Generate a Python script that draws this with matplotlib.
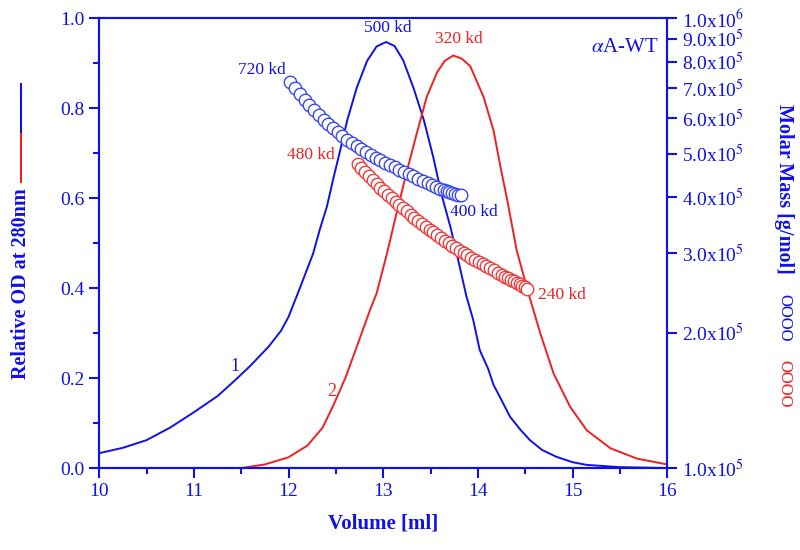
import matplotlib
matplotlib.use("Agg")
import matplotlib.pyplot as plt
from matplotlib.lines import Line2D

plt.rcParams['font.family'] = ['Liberation Serif', 'DejaVu Serif']
plt.rcParams['mathtext.fontset'] = 'stix'

BLUE = '#1010e8'
RED = '#ee2020'

# curve 1 (blue) - relative OD
vol1 = [10.0, 10.25, 10.5, 10.75, 11.0, 11.25, 11.44, 11.6, 11.79, 11.92, 12.0, 12.12,
        12.26, 12.33, 12.405, 12.475, 12.55, 12.62, 12.72, 12.83, 12.93, 13.03, 13.12,
        13.21, 13.32, 13.43, 13.53, 13.62, 13.71, 13.80, 13.88, 13.95, 14.02, 14.11,
        14.165, 14.24, 14.34, 14.45, 14.55, 14.68, 14.83, 15.0, 15.15, 15.5, 16.0]
od1 = [0.033, 0.045, 0.062, 0.09, 0.124, 0.16, 0.196, 0.228, 0.27, 0.305, 0.336, 0.400,
       0.477, 0.530, 0.581, 0.645, 0.71, 0.773, 0.845, 0.905, 0.937, 0.947, 0.938,
       0.907, 0.845, 0.773, 0.690, 0.605, 0.536, 0.455, 0.381, 0.33, 0.262, 0.22,
       0.185, 0.155, 0.114, 0.085, 0.062, 0.04, 0.025, 0.013, 0.007, 0.002, 0.0]

# curve 2 (red) - relative OD
vol2 = [11.5, 11.75, 12.0, 12.2, 12.36, 12.475, 12.6, 12.73, 12.86, 12.93, 13.04, 13.145,
        13.25, 13.355, 13.46, 13.57, 13.65, 13.74, 13.83, 13.92, 14.06, 14.165, 14.24,
        14.31, 14.41, 14.535, 14.66, 14.80, 14.975, 15.15, 15.40, 15.68, 16.0]
od2 = [0.0, 0.008, 0.024, 0.05, 0.09, 0.14, 0.2, 0.275, 0.351, 0.388, 0.477, 0.57,
       0.66, 0.744, 0.825, 0.88, 0.905, 0.917, 0.91, 0.893, 0.825, 0.751, 0.668,
       0.596, 0.484, 0.388, 0.299, 0.21, 0.136, 0.084, 0.044, 0.021, 0.008]

# molar mass (kd) - blue circles
mm1_vol = [12.02, 12.07, 12.12, 12.17, 12.22, 12.27, 12.32, 12.37, 12.42, 12.47, 12.52,
           12.57, 12.62, 12.67, 12.72, 12.77, 12.82, 12.87, 12.92, 12.97, 13.02, 13.07,
           13.12, 13.17, 13.22, 13.27, 13.32, 13.37, 13.42, 13.47, 13.52, 13.56, 13.60,
           13.64, 13.67, 13.70, 13.73, 13.76, 13.79, 13.82]
mm1_kd = [720, 698, 678, 659, 641, 624, 608, 594, 581, 569, 558, 547, 537, 528, 520, 512,
          504, 497, 490, 483, 477, 471, 466, 460, 455, 450, 445, 440, 435, 430, 425, 421,
          418, 415, 412, 410, 408, 406, 405, 404]

# molar mass (kd) - red circles
mm2_vol = [12.73, 12.77, 12.81, 12.85, 12.89, 12.93, 12.97, 13.01, 13.05, 13.09, 13.13,
           13.17, 13.21, 13.25, 13.29, 13.33, 13.37, 13.41, 13.45, 13.49, 13.53, 13.57,
           13.61, 13.65, 13.69, 13.73, 13.77, 13.81, 13.85, 13.89, 13.93, 13.97, 14.01,
           14.05, 14.09, 14.13, 14.17, 14.21, 14.25, 14.29, 14.32, 14.35, 14.38, 14.41,
           14.44, 14.47, 14.50, 14.52]
mm2_kd = [475, 464, 454, 445, 436, 428, 420, 412, 405, 398, 391, 385, 378, 372, 366, 360,
          354, 349, 344, 339, 334, 329, 324, 320, 316, 312, 308, 304, 300, 297, 293, 290,
          287, 284, 281, 278, 275, 272, 269, 266, 264, 262, 260, 258, 256, 254, 252, 250]

right_ticks = [1e5, 2e5, 3e5, 4e5, 5e5, 6e5, 7e5, 8e5, 9e5, 1e6]
right_labels = ['1.0x10$^5$', '2.0x10$^5$', '3.0x10$^5$', '4.0x10$^5$', '5.0x10$^5$',
                '6.0x10$^5$', '7.0x10$^5$', '8.0x10$^5$', '9.0x10$^5$', '1.0x10$^6$']

fig = plt.figure(figsize=(8, 5.5), dpi=100)
ax = fig.add_axes([0.124, 0.149, 0.71, 0.818])
ax2 = ax.twinx()

ax.plot(vol1, od1, color=BLUE, lw=1.4)
ax.plot(vol2, od2, color=RED, lw=1.4)

ax2.plot(mm1_vol, [k * 1000 for k in mm1_kd], 'o', ms=9, mfc='white', mec='#3848f0', mew=1.0)
ax2.plot(mm2_vol, [k * 1000 for k in mm2_kd], 'o', ms=9, mfc='white', mec='#f03a3a', mew=1.0)

ax.set_xlim(10, 16)
ax.set_ylim(0, 1.0)
ax2.set_yscale('log')
ax2.set_ylim(1e5, 1e6)

ax.set_xticks([10, 11, 12, 13, 14, 15, 16])
ax.set_xticks([10.5, 11.5, 12.5, 13.5, 14.5, 15.5], minor=True)
ax.set_yticks([0.0, 0.2, 0.4, 0.6, 0.8, 1.0])
ax.set_yticklabels(['0.0', '0.2', '0.4', '0.6', '0.8', '1.0'])
ax.set_yticks([0.1, 0.3, 0.5, 0.7, 0.9], minor=True)
ax2.set_yticks(right_ticks)
ax2.set_yticklabels(right_labels)
ax2.yaxis.set_minor_locator(matplotlib.ticker.NullLocator())

for a in (ax, ax2):
    for s in a.spines.values():
        s.set_color(BLUE)
        s.set_linewidth(1.5)
    a.tick_params(which='major', direction='out', length=7, width=1.5, color=BLUE,
                  labelcolor=BLUE, labelsize=14)
    a.tick_params(which='minor', direction='out', length=4, width=1.5, color=BLUE)

ax.set_xlabel('Volume [ml]', color=BLUE, fontsize=15, fontweight='bold', labelpad=10)

# peak / mass annotations
ax.text(13.05, 0.96, '500 kd', color=BLUE, fontsize=12.5, ha='center', va='bottom')
ax.text(13.8, 0.935, '320 kd', color=RED, fontsize=12.5, ha='center', va='bottom')
ax.text(11.97, 0.885, '720 kd', color=BLUE, fontsize=12.5, ha='right', va='center')
ax.text(12.49, 0.696, '480 kd', color=RED, fontsize=12.5, ha='right', va='center')
ax.text(13.71, 0.569, '400 kd', color=BLUE, fontsize=12.5, ha='left', va='center')
ax.text(14.64, 0.384, '240 kd', color=RED, fontsize=12.5, ha='left', va='center')
ax.text(11.43, 0.225, '1', color=BLUE, fontsize=13, ha='center', va='center')
ax.text(12.46, 0.17, '2', color=RED, fontsize=13, ha='center', va='center')
ax.text(15.55, 0.935, r'$\alpha$A-WT', color=BLUE, fontsize=15, ha='center', va='center')

# left axis title with line key
fig.text(0.026, 0.484, 'Relative OD at 280nm', color=BLUE, fontsize=14.5, fontweight='bold',
         rotation=90, ha='center', va='center')
fig.add_artist(Line2D([0.0265, 0.0265], [0.76, 0.847], color=BLUE, lw=1.5,
                      transform=fig.transFigure))
fig.add_artist(Line2D([0.0265, 0.0265], [0.669, 0.756], color=RED, lw=1.5,
                      transform=fig.transFigure))

# right axis title with marker key
fig.text(0.98, 0.656, 'Molar Mass [g/mol]', color=BLUE, fontsize=14.5, fontweight='bold',
         rotation=-90, ha='center', va='center')
fig.text(0.98, 0.422, 'OOOO', color=BLUE, fontsize=12, rotation=-90, ha='center', va='center')
fig.text(0.98, 0.302, 'OOOO', color=RED, fontsize=12, rotation=-90, ha='center', va='center')

fig.savefig('out.png', dpi=100)
